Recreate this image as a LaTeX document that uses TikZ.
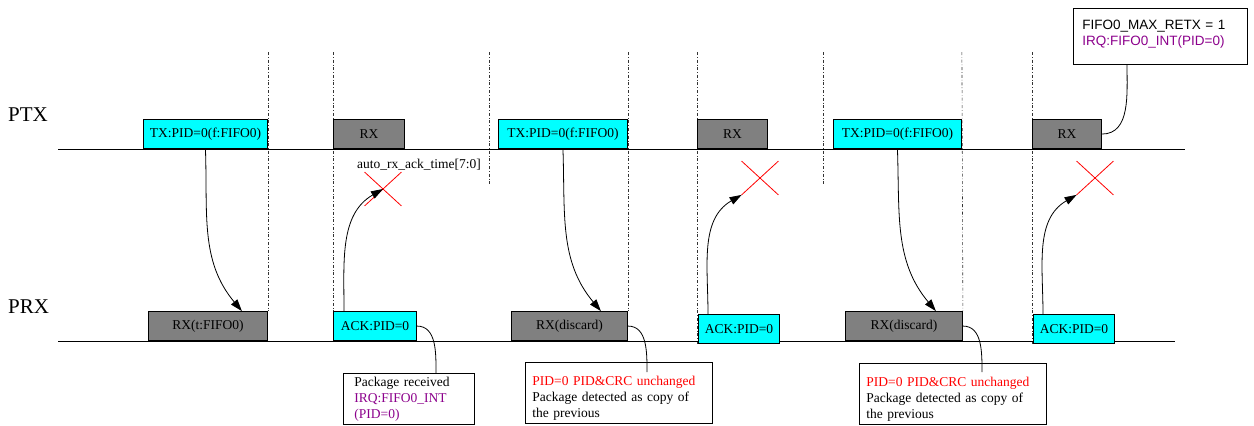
\documentclass[tikz,border=0pt]{standalone}
\usepackage{fontspec}
\setmainfont{Liberation Serif}
\setsansfont{Liberation Sans}
\usepackage{tikz}
\usetikzlibrary{positioning,arrows.meta,calc,backgrounds,shapes.misc}
\definecolor{pktcyan}{RGB}{0,255,255}
\definecolor{pktgray}{RGB}{128,128,128}
\definecolor{irqpurple}{RGB}{140,0,140}
\definecolor{lossred}{RGB}{255,0,0}

\begin{document}
\begin{tikzpicture}[x=1pt,y=-1pt,
            every node/.style={font=\fontsize{13.5}{16}\selectfont},
            txbox/.style={draw,line width=0.9pt,fill=pktcyan,inner sep=0pt,
                          minimum height=29pt,anchor=south west},
            rxbox/.style={draw,line width=0.9pt,fill=pktgray,inner sep=0pt,
                          minimum height=29pt,anchor=south west},
            note/.style={draw,line width=0.9pt,fill=white,align=left,
                         anchor=north west,inner ysep=0pt},
            guide/.style={draw=black!80,line width=0.6pt,dash dot},
            link/.style={draw,line width=0.8pt},
            sendto/.style={draw,line width=0.8pt,-{Triangle[length=12pt,width=8pt]}},
            loss/.style={cross out,draw=lossred,line width=0.8pt,inner sep=0pt,
                         minimum width=36pt,minimum height=33pt}]
        \useasboundingbox (0,0) rectangle (1254,426);
        \coordinate (top) at (0,52);

        \node[font=\fontsize{21}{24}\selectfont,anchor=west,inner sep=0pt] (ptx) at (8,115) {PTX};
        \node[font=\fontsize{21}{24}\selectfont,anchor=west,inner sep=0pt] (prx) at (8,307) {PRX};
        \draw[line width=0.8pt] (58,149) -- (1185,149);
        \draw[line width=0.8pt] (58,341) -- (1175,341);

        \node[txbox,minimum width=124pt] (txa) at (143,149) {TX:PID=0(f:FIFO0)};
        \node[rxbox,minimum width=71pt] (rxa) at (333,149) {RX};
        \node[txbox,minimum width=129pt] (txb) at (498,149) {TX:PID=0(f:FIFO0)};
        \node[rxbox,minimum width=70pt] (rxb) at (697,149) {RX};
        \node[txbox,minimum width=128pt] (txc) at (833,149) {TX:PID=0(f:FIFO0)};
        \node[rxbox,minimum width=69pt] (rxc) at (1032,149) {RX};

        \node[rxbox,minimum width=119pt] (rxta) at (148,341) {RX(t:FIFO0)};
        \node[txbox,minimum width=83pt] (acka) at (333,341) {ACK:PID=0};
        \node[rxbox,minimum width=116pt] (rxda) at (511,341) {RX(discard)};
        \node[txbox,minimum width=81pt] (ackb) at (698,344) {ACK:PID=0};
        \node[rxbox,minimum width=117pt] (rxdb) at (845,341) {RX(discard)};
        \node[txbox,minimum width=81pt] (ackc) at (1033,344) {ACK:PID=0};

        \node[anchor=west,inner sep=0pt] (acktime) at (357,165) {auto\_rx\_ack\_time[7:0]};
        \node[loss] (lossa) at (383,189) {};
        \node[loss] (lossb) at (760,178) {};
        \node[loss] (lossc) at (1095,178) {};

        \node[note,text width=109pt,inner xsep=11pt,text height=13.5pt,text depth=37.5pt]
            (notea) at (343,373) {Package received\\
            \textcolor{irqpurple}{IRQ:FIFO0\_INT}\\\textcolor{irqpurple}{(PID=0)}};
        \node[note,text width=173pt,inner xsep=7pt,text height=23pt,text depth=38pt]
            (noteb) at (525,362) {\textcolor{lossred}{PID=0 PID\&CRC unchanged}\\
            Package detected as copy of\\the previous};
        \node[note,text width=173pt,inner xsep=7pt,text height=23pt,text depth=38pt]
            (notec) at (859,363) {\textcolor{lossred}{PID=0 PID\&CRC unchanged}\\
            Package detected as copy of\\the previous};
        \node[note,text width=156pt,inner xsep=9pt,text height=21.5pt,text depth=34.5pt]
            (notetop) at (1073,8) {\sffamily FIFO0\_MAX\_RETX = 1\\
            \textcolor{irqpurple}{IRQ:FIFO0\_INT(PID=0)}};

        \draw[sendto] (txa.south) to[out=-88,in=130] ([xshift=-26pt]rxta.north east);
        \draw[sendto] (txb.south) to[out=-88,in=130] ([xshift=-27pt]rxda.north east);
        \draw[sendto] (txc.south) to[out=-88,in=130] ([xshift=-27pt]rxdb.north east);
        \draw[sendto] ([xshift=11pt]acka.north west) to[out=90,in=210] (lossa.center);
        \draw[sendto] ([xshift=10pt]ackb.north west) to[out=90,in=210] (lossb.south west);
        \draw[sendto] ([xshift=10pt]ackc.north west) to[out=90,in=210] (lossc.south west);

        \draw[link] (acka.east) to[out=0,in=90] ([xshift=93pt]notea.north west);
        \draw[link] (rxda.east) to[out=0,in=90] ($(noteb.north west)+(122,10)$);
        \draw[link] (rxdb.east) to[out=0,in=90] ($(notec.north west)+(123,9)$);
        \draw[link] (rxc.east) to[out=0,in=-90] ([xshift=54pt]notetop.south west);

        \begin{scope}[on background layer]
          \draw[guide] (txa.south east |- top) -- (rxta.north east);
          \draw[guide] (rxa.south west |- top) -- (acka.north west);
          \draw[guide] (489,52) -- (489,185);
          \draw[guide] (txb.south east |- top) -- (rxda.north east);
          \draw[guide] (rxb.south west |- top) -- (rxb.south west |- ackb.south);
          \draw[guide] (823,52) -- (823,186);
          \draw[guide] (txc.south east |- top) -- (rxdb.north east);
          \draw[guide] (rxc.south west |- top) -- (rxc.south west |- ackc.south);
        \end{scope}
\end{tikzpicture}
\end{document}
